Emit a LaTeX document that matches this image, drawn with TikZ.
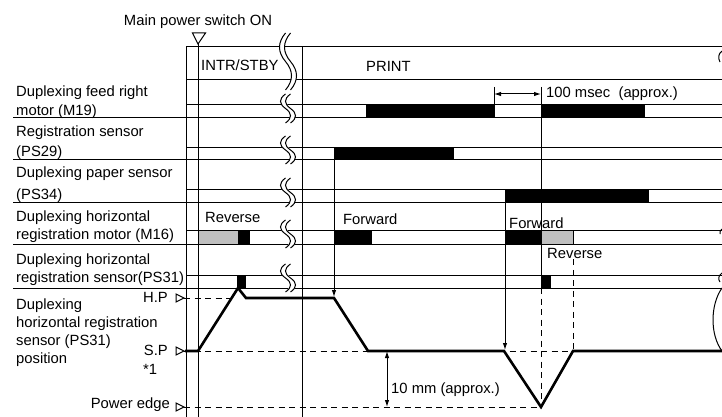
\documentclass[tikz,border=0pt]{standalone}
\usepackage{fontspec}
\setmainfont{Liberation Sans}
\usetikzlibrary{arrows.meta}

% break mark: x, top, bottom, bulge
\newcommand{\brkmark}[4]{%
  \foreach \off/\clr/\lw in {0/white/5pt, -2.5/black/1pt, 2.5/black/1pt}
    \draw[\clr, line width=\lw] ({#1+\off},#2)
      .. controls ({#1+\off-#4},{#2+(#3-#2)/6}) and ({#1+\off-#4},{#2+(#3-#2)/3}) .. ({#1+\off},{(#2+#3)/2})
      .. controls ({#1+\off+#4},{#2+2*(#3-#2)/3}) and ({#1+\off+#4},{#2+5*(#3-#2)/6}) .. ({#1+\off},#3);}

\begin{document}
\begin{tikzpicture}[x=1pt, y=-1pt,
    lbl/.style={font=\fontsize{14.8}{18}\selectfont, inner sep=0pt, anchor=base west, align=left},
    ln/.style={line width=1pt},
    dashln/.style={line width=0.9pt, dash pattern=on 6pt off 4.5pt},
    trace/.style={line width=2.6pt},
    onbar/.style={fill=black, draw=black, line width=1pt},
    revbar/.style={fill=gray!50, draw=black, line width=1pt},
    tip/.style={-{Latex[length=7pt, width=4.5pt]}, line width=1pt},
    dim/.style={{Latex[length=7pt, width=4.5pt]}-{Latex[length=7pt, width=4.5pt]}, line width=1pt},
]
\useasboundingbox (0,0) rectangle (722,417);

% Power on marker
\node[lbl, anchor=base] (pwr) at (198,26) {Main power switch ON};
\draw[ln] (192.5,33) -- (205.5,33) -- (198,44) -- cycle;

% Frame
\draw[ln] (186,47) -- (722,47);
\draw[ln] (186,80) -- (722,80);
\draw[ln] (186,47) -- (186,417);
\draw[ln] (198,44) -- (198,417);
\draw[ln] (302,47) -- (302,417);

% Signal rows (high / low level)
\foreach \hi/\lo in {105/118, 147/159, 189/202, 230/244, 275/288} {
  \draw[ln] (186,\hi) -- (722,\hi);
  \draw[ln] (13,\lo) -- (722,\lo);
}

% Phase labels
\node[lbl] (intr) at (201,71) {INTR/STBY};
\node[lbl] (print) at (366,71.5) {PRINT};

% Row labels (anchored on last line)
\node[lbl] (m19) at (16,115) {Duplexing feed right\\[1pt]motor (M19)};
\node[lbl] (ps29) at (16,156) {Registration sensor\\[1.5pt](PS29)};
\node[lbl] (ps34) at (16,199) {Duplexing paper sensor\\[3.5pt](PS34)};
\node[lbl] (m16) at (16,239) {Duplexing horizontal\\registration motor (M16)};
\node[lbl] (ps31) at (16,282) {Duplexing horizontal\\registration sensor(PS31)};
\node[lbl] (pos) at (16,363) {Duplexing\\horizontal registration\\sensor (PS31)\\position};

% Position levels
\node[lbl, anchor=base east] (hp) at (168,302) {H.P};
\node[lbl, anchor=base east] (sp) at (168,355) {S.P};
\node[lbl] (note) at (143,374) {*1};
\node[lbl, anchor=base east] (pe) at (170,408) {Power edge};
\foreach \y in {298, 351, 407}
  \draw[ln] (176,\y-4) -- (184,\y) -- (176,\y+4) -- cycle;
\draw[dashln] (184,298) -- (232,298);
\draw[dashln] (184,351) -- (722,351);
\draw[dashln] (184,407) -- (541,407);

% Bars
\draw[onbar] (366,105) rectangle (494,118);
\draw[onbar] (541,105) rectangle (644,118);
\draw[onbar] (334,147) rectangle (453,159);
\draw[onbar] (505,189) rectangle (648,202);
\draw[revbar] (198,230) rectangle (238,244);
\draw[onbar] (238,230) rectangle (249,244);
\draw[onbar] (334,230) rectangle (371,244);
\draw[onbar] (505,230) rectangle (541,244);
\draw[revbar] (541,230) rectangle (573,244);
\draw[onbar] (237,275) rectangle (245,288);
\draw[onbar] (541,275) rectangle (550,288);

% Motor direction labels
\node[lbl] (revA) at (205,222.5) {Reverse};
\node[lbl] (fwdA) at (343,224) {Forward};
\node[lbl] (fwdB) at (509,228) {Forward};
\node[lbl, fill=white, inner sep=1pt] (revB) at (546,258) {Reverse};

% Position trace
\draw[trace] (185,351) -- (198,351) -- (238,288) -- (246,298) -- (334,298) -- (368,351)
  -- (504,351) -- (541,407) -- (573,351) -- (722,351);

% Timing links
\coordinate (ps29on) at (334,159);
\coordinate (hpoff) at (334,297);
\coordinate (ps34on) at (505,202);
\coordinate (spin) at (505,350);
\coordinate (revend) at (573,351);
\coordinate (vbot) at (541,407);
\draw[tip] (ps29on) -- (hpoff);
\draw[tip] (ps34on) -- (spin);
\draw[dashln] (revB.south -| revend) -- (revend);
\draw[dashln] (541,288) -- (vbot);

% 100 msec
\draw[ln] (494,87) -- (494,105);
\draw[ln] (541,87) -- (541,275);
\draw[dim] (494,94) -- (541,94);
\node[lbl] (msec) at (546,98) {100 msec\ \ (approx.)};

% 10 mm
\draw[dim] (387,351) -- (387,407);
\node[lbl] (tenmm) at (391,393) {10 mm (approx.)};

% Breaks
\brkmark{288}{33}{90}{8}
\brkmark{288}{94}{123}{6.7}
\brkmark{288}{136}{164}{6.7}
\brkmark{288}{178}{207}{6.7}
\brkmark{288}{220}{248}{6.7}
\brkmark{288}{264}{292}{6.7}
\draw[ln] (722,51) .. controls (718,54) and (718,58) .. (720,62);
\draw[ln] (722,229) .. controls (720,231) .. (720,234);
\draw[ln] (722,273) .. controls (718,276) and (718,279) .. (720,282);
\draw[ln] (722,288) .. controls (710,305) and (710,335) .. (722,351);
\end{tikzpicture}
\end{document}
